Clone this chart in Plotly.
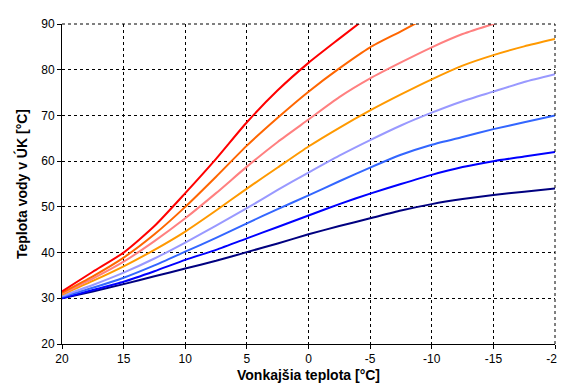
import plotly.graph_objects as go

x_vals = [20, 17.5, 15, 12.5, 10, 7.5, 5, 2.5, 0, -2.5, -5, -7.5, -10, -12.5, -15, -17.5, -20]

red = [31.5, 35.8, 40.0, 45.8, 53.0, 60.5, 68.5, 75.5, 81.5, 86.8, 92.0, None, None, None, None, None, None]
orange_red = [31.2, 34.8, 38.9, 44.0, 50.0, 56.6, 63.4, 69.5, 75.2, 80.3, 84.9, 88.4, 92.0, None, None, None, None]
pink = [31.0, 34.3, 38.0, 42.5, 47.5, 53.0, 58.8, 64.2, 69.1, 74.0, 78.1, 81.6, 84.9, 87.8, 90.0, 92.0, None]
orange = [30.8, 33.8, 37.0, 40.6, 44.6, 49.2, 54.0, 58.6, 63.2, 67.3, 71.1, 74.6, 77.9, 80.9, 83.2, 85.1, 86.7]
lavender = [30.5, 32.9, 35.6, 38.7, 42.2, 45.9, 49.7, 53.7, 57.5, 61.2, 64.6, 67.8, 70.6, 73.1, 75.2, 77.3, 79.0]
blue_light = [30.3, 32.3, 34.5, 37.2, 40.2, 43.2, 46.4, 49.5, 52.5, 55.6, 58.6, 61.4, 63.6, 65.3, 67.0, 68.5, 70.0]
blue = [30.0, 31.8, 33.6, 35.9, 38.4, 40.6, 43.1, 45.6, 48.1, 50.6, 52.9, 55.0, 57.0, 58.7, 60.0, 61.0, 62.0]
navy = [30.0, 31.5, 33.1, 34.8, 36.5, 38.2, 40.1, 42.0, 44.0, 45.8, 47.5, 49.2, 50.6, 51.7, 52.6, 53.3, 54.0]

series = [
    (red, "#FF0000"),
    (orange_red, "#FF6600"),
    (pink, "#FF8080"),
    (orange, "#FF9900"),
    (lavender, "#9999FF"),
    (blue_light, "#3366FF"),
    (blue, "#0000FF"),
    (navy, "#000080"),
]

x_ticks = [20, 15, 10, 5, 0, -5, -10, -15, -20]
y_ticks = [20, 30, 40, 50, 60, 70, 80, 90]

fig = go.Figure()
for ys, col in reversed(series):
    fig.add_trace(go.Scatter(x=x_vals, y=ys, mode="lines",
                             line=dict(color=col, width=2, shape="spline", smoothing=0.6),
                             connectgaps=False, showlegend=False, hoverinfo="skip"))

# dotted border on top and right (grid lines at range ends)
fig.add_shape(type="line", xref="paper", yref="paper", x0=0, x1=1, y0=1, y1=1,
              line=dict(color="black", width=1, dash="dot"))
fig.add_shape(type="line", xref="paper", yref="paper", x0=1, x1=1, y0=0, y1=1,
              line=dict(color="black", width=1, dash="dot"))

font_family = "Liberation Sans, Arial, sans-serif"
fig.update_layout(
    width=565, height=388,
    margin=dict(l=54, r=14, t=9.5, b=52),
    paper_bgcolor="white", plot_bgcolor="white",
    font=dict(family=font_family, size=12, color="black"),
    xaxis=dict(range=[20, -20], tickvals=x_ticks, ticktext=[str(v) for v in x_ticks],
               showgrid=True, gridcolor="black", griddash="dot", gridwidth=1,
               showline=True, linecolor="black", linewidth=1,
               ticks="outside", ticklen=4, tickcolor="black",
               zeroline=False, ticklabeloverflow="allow",
               title=dict(text="<b>Vonkajšia teplota [°C]</b>", font=dict(size=14), standoff=4)),
    yaxis=dict(range=[20, 90], tickvals=y_ticks,
               showgrid=True, gridcolor="black", griddash="dot", gridwidth=1,
               showline=True, linecolor="black", linewidth=1,
               ticks="outside", ticklen=4, tickcolor="black",
               zeroline=False, ticklabeloverflow="allow",
               title=dict(text="<b>Teplota vody v ÚK [°C]</b>", font=dict(size=14), standoff=10)),
)

fig.write_html("out.html")
